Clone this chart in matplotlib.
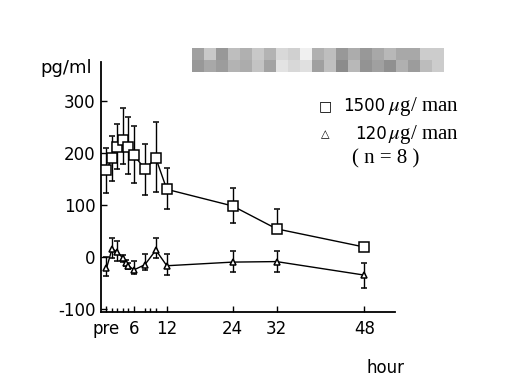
import matplotlib
matplotlib.use("Agg")
import matplotlib.pyplot as plt
import numpy as np

plt.rcParams["mathtext.fontset"] = "stix"

# ---- data ----
sq_t = [1, 2, 3, 4, 5, 6, 8, 10, 12, 24, 32, 48]
sq_v = [167, 190, 212, 225, 212, 196, 169, 190, 130, 98, 54, 19]
sq_err_lo = [45, 43, 43, 47, 52, 54, 50, 66, 38, 33, 0, 0]
sq_err_hi = [43, 43, 44, 61, 58, 56, 48, 70, 42, 35, 39, 0]

tri_t = [1, 2, 3, 4, 4.5, 5, 6, 8, 10, 12, 24, 32, 48]
tri_v = [-22, 15, 10, -3, -12, -17, -25, -15, 13, -17, -10, -9, -35]
tri_err_lo = [15, 18, 18, 6, 6, 6, 8, 10, 16, 18, 20, 20, 24]
tri_err_hi = [22, 21, 21, 6, 6, 6, 17, 20, 23, 22, 22, 21, 23]

x_ticks = [1, 6, 12, 24, 32, 48]
x_ticklabels = ["pre", "6", "12", "24", "32", "48"]
x_minor = [2, 3, 4, 5, 8, 9, 10]
y_ticks = [-100, 0, 100, 200, 300]

legend_doses = ["1500", "120"]
legend_unit = "$\\mu$g/ man"
legend_n = "( n = 8 )"

mosaic_row1 = [0xA0, 0xC8, 0x98, 0xBE, 0xB0, 0xC8, 0xB4, 0xD8, 0xD0, 0xF0, 0xB0,
               0xBE, 0x98, 0xAC, 0x98, 0xA8, 0xB8, 0xA8, 0xA8, 0xCC, 0xCC]
mosaic_row2 = [0x98, 0xA8, 0x9C, 0xB4, 0xAC, 0xC4, 0xA4, 0xE4, 0xD8, 0xE0, 0xA0,
               0xC0, 0x8C, 0xB8, 0x94, 0xA0, 0x90, 0xB0, 0x9C, 0xBC, 0xCC]

W, H = 515, 381
fig = plt.figure(figsize=(W / 100, H / 100), dpi=100)
fig.patch.set_facecolor("white")

ax = fig.add_axes([101 / W, 1 - 312 / H, (395 - 101) / W, (312 - 62) / H])
ax.set_xlim(0, 53.6)
ax.set_ylim(-106, 375)

ax.errorbar(sq_t, sq_v, yerr=[sq_err_lo, sq_err_hi], fmt="s-", color="black",
            mfc="white", mec="black", ms=7.5, mew=1.1, lw=1.0,
            elinewidth=1.0, capsize=2.5, capthick=1.0, zorder=3)
ax.errorbar(tri_t, tri_v, yerr=[tri_err_lo, tri_err_hi], fmt="^-", color="black",
            mfc="white", mec="black", ms=5, mew=1.1, lw=1.0,
            elinewidth=1.0, capsize=2.5, capthick=1.0, zorder=3)

for s in ["top", "right"]:
    ax.spines[s].set_visible(False)
ax.spines["left"].set_linewidth(1.3)
ax.spines["bottom"].set_linewidth(1.3)

ax.set_yticks(y_ticks)
ax.set_yticklabels([str(v) for v in y_ticks])
ax.set_xticks(x_ticks)
ax.set_xticklabels(x_ticklabels)
ax.set_xticks(x_minor, minor=True)
ax.tick_params(axis="both", which="both", direction="in", width=1.0, length=4,
               labelsize=12, pad=6)
ax.tick_params(axis="x", which="minor", length=3)
ax.tick_params(axis="y", pad=4)

fig.text(92 / W, 1 - 68 / H, "pg/ml", ha="right", va="center", fontsize=13)
fig.text(385 / W, 1 - 368 / H, "hour", ha="center", va="center", fontsize=12)

# legend
fig.text(325 / W, 1 - 106 / H, "□", ha="center", va="center", fontsize=10,
         family="DejaVu Sans")
fig.text(343 / W, 1 - 106 / H, legend_doses[0], ha="left", va="center", fontsize=12)
fig.text(388 / W, 1 - 106 / H, legend_unit, ha="left", va="center",
         fontsize=15, family="Liberation Serif")
fig.text(325 / W, 1 - 134 / H, "△", ha="center", va="center", fontsize=8,
         family="DejaVu Sans")
fig.text(355 / W, 1 - 134 / H, legend_doses[1], ha="left", va="center", fontsize=12)
fig.text(388 / W, 1 - 134 / H, legend_unit, ha="left", va="center",
         fontsize=15, family="Liberation Serif")
fig.text(352 / W, 1 - 159 / H, legend_n, ha="left", va="center", fontsize=15,
         family="Liberation Serif")

# redaction mosaic
axm = fig.add_axes([192 / W, 1 - 72 / H, 252 / W, 24 / H])
axm.imshow(np.array([mosaic_row1, mosaic_row2]), cmap="gray", vmin=0, vmax=255,
           aspect="auto", interpolation="nearest")
axm.axis("off")

fig.savefig("out.png", dpi=100, facecolor="white")
